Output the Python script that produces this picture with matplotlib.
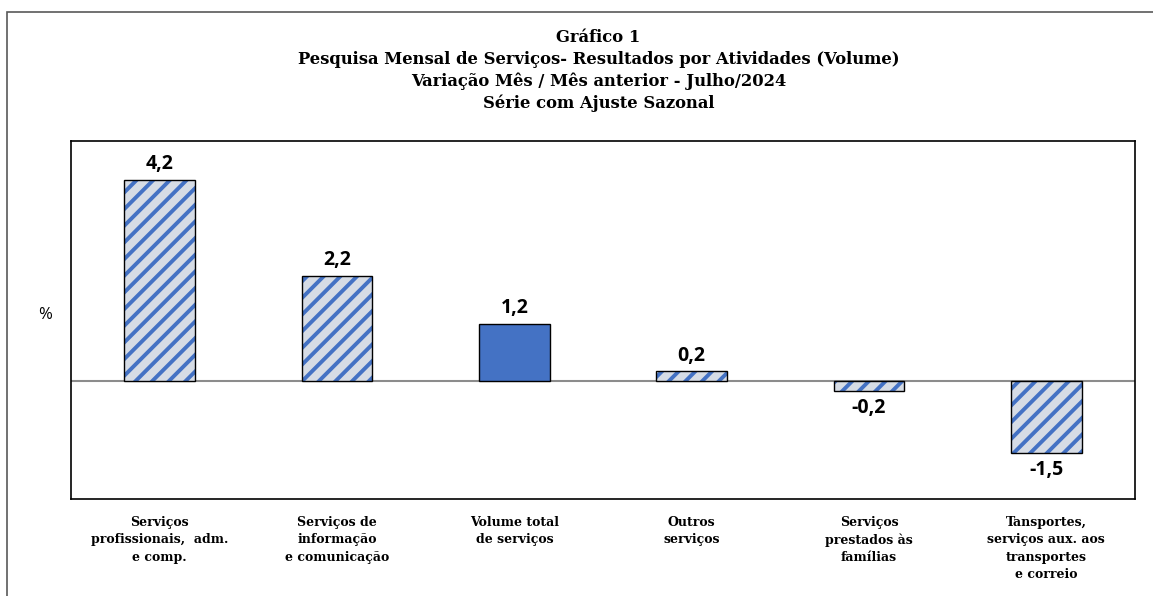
# Gráfico 1 - PMS variação mês / mês anterior, julho/2024

import numpy as np
import matplotlib.pyplot as plt
from matplotlib.patches import Rectangle

# Dados
categorias = [
    "Serviços\nprofissionais,  adm.\ne comp.",
    "Serviços de\ninformação\ne comunicação",
    "Volume total\nde serviços",
    "Outros\nserviços",
    "Serviços\nprestados às\nfamílias",
    "Tansportes,\nserviços aux. aos\ntransportes\ne correio",
]
valores = [4.2, 2.2, 1.2, 0.2, -0.2, -1.5]
total = "Volume total\nde serviços"

titulo = ("Gráfico 1\n"
          "Pesquisa Mensal de Serviços- Resultados por Atividades (Volume)\n"
          "Variação Mês / Mês anterior - Julho/2024\n"
          "Série com Ajuste Sazonal")

azul = "#4472C4"
claro = "#D6DCE5"
plt.rcParams["hatch.linewidth"] = 2.8

fig = plt.figure(figsize=(11.53, 5.96), dpi=100)
ax = fig.add_axes([0.0616, 0.1628, 0.9228, 0.6007])

x = np.arange(len(categorias))
for i, (cat, v) in enumerate(zip(categorias, valores)):
    if cat == total:
        ax.bar(x[i], v, width=0.4, color=azul, edgecolor="black", linewidth=1, zorder=3)
    else:
        # fundo claro com listras azuis, depois a borda preta por cima
        ax.bar(x[i], v, width=0.4, color=claro, edgecolor=azul, hatch="//", linewidth=0, zorder=3)
        ax.bar(x[i], v, width=0.4, fill=False, edgecolor="black", linewidth=1, zorder=4)
    txt = f"{v:.1f}".replace(".", ",")
    if v >= 0:
        ax.annotate(txt, (x[i], v), xytext=(0, 4), textcoords="offset points",
                    ha="center", va="bottom", fontsize=14, fontweight="bold", family="Open Sans")
    else:
        ax.annotate(txt, (x[i], v), xytext=(0, -5), textcoords="offset points",
                    ha="center", va="top", fontsize=14, fontweight="bold", family="Open Sans")

ax.axhline(0, color="#8c8c8c", linewidth=1.5, zorder=2)
ax.set_xlim(-0.5, len(categorias) - 0.5)
ax.set_ylim(-2.46, 5.01)
ax.set_yticks([])
ax.set_xticks(x)
ax.set_xticklabels(categorias, fontsize=9, fontweight="bold", family="DejaVu Serif",
                   linespacing=1.45, va="top")
ax.tick_params(axis="x", length=0, pad=12)
for s in ax.spines.values():
    s.set_color("black")
    s.set_linewidth(1.2)

fig.text(0.519, 1 - 29 / 596, titulo, ha="center", va="top", fontsize=11.8,
         fontweight="bold", family="DejaVu Serif", linespacing=1.35)
fig.text(0.039, 1 - 315 / 596, "%", ha="center", va="center", fontsize=12, family="Open Sans")

# moldura externa
fig.patches.append(Rectangle((7 / 1153, -0.1), 1.2, 1.1 - 12 / 596, transform=fig.transFigure,
                             fill=False, edgecolor="#595959", linewidth=1.2))

fig.savefig("out.png", dpi=100)
